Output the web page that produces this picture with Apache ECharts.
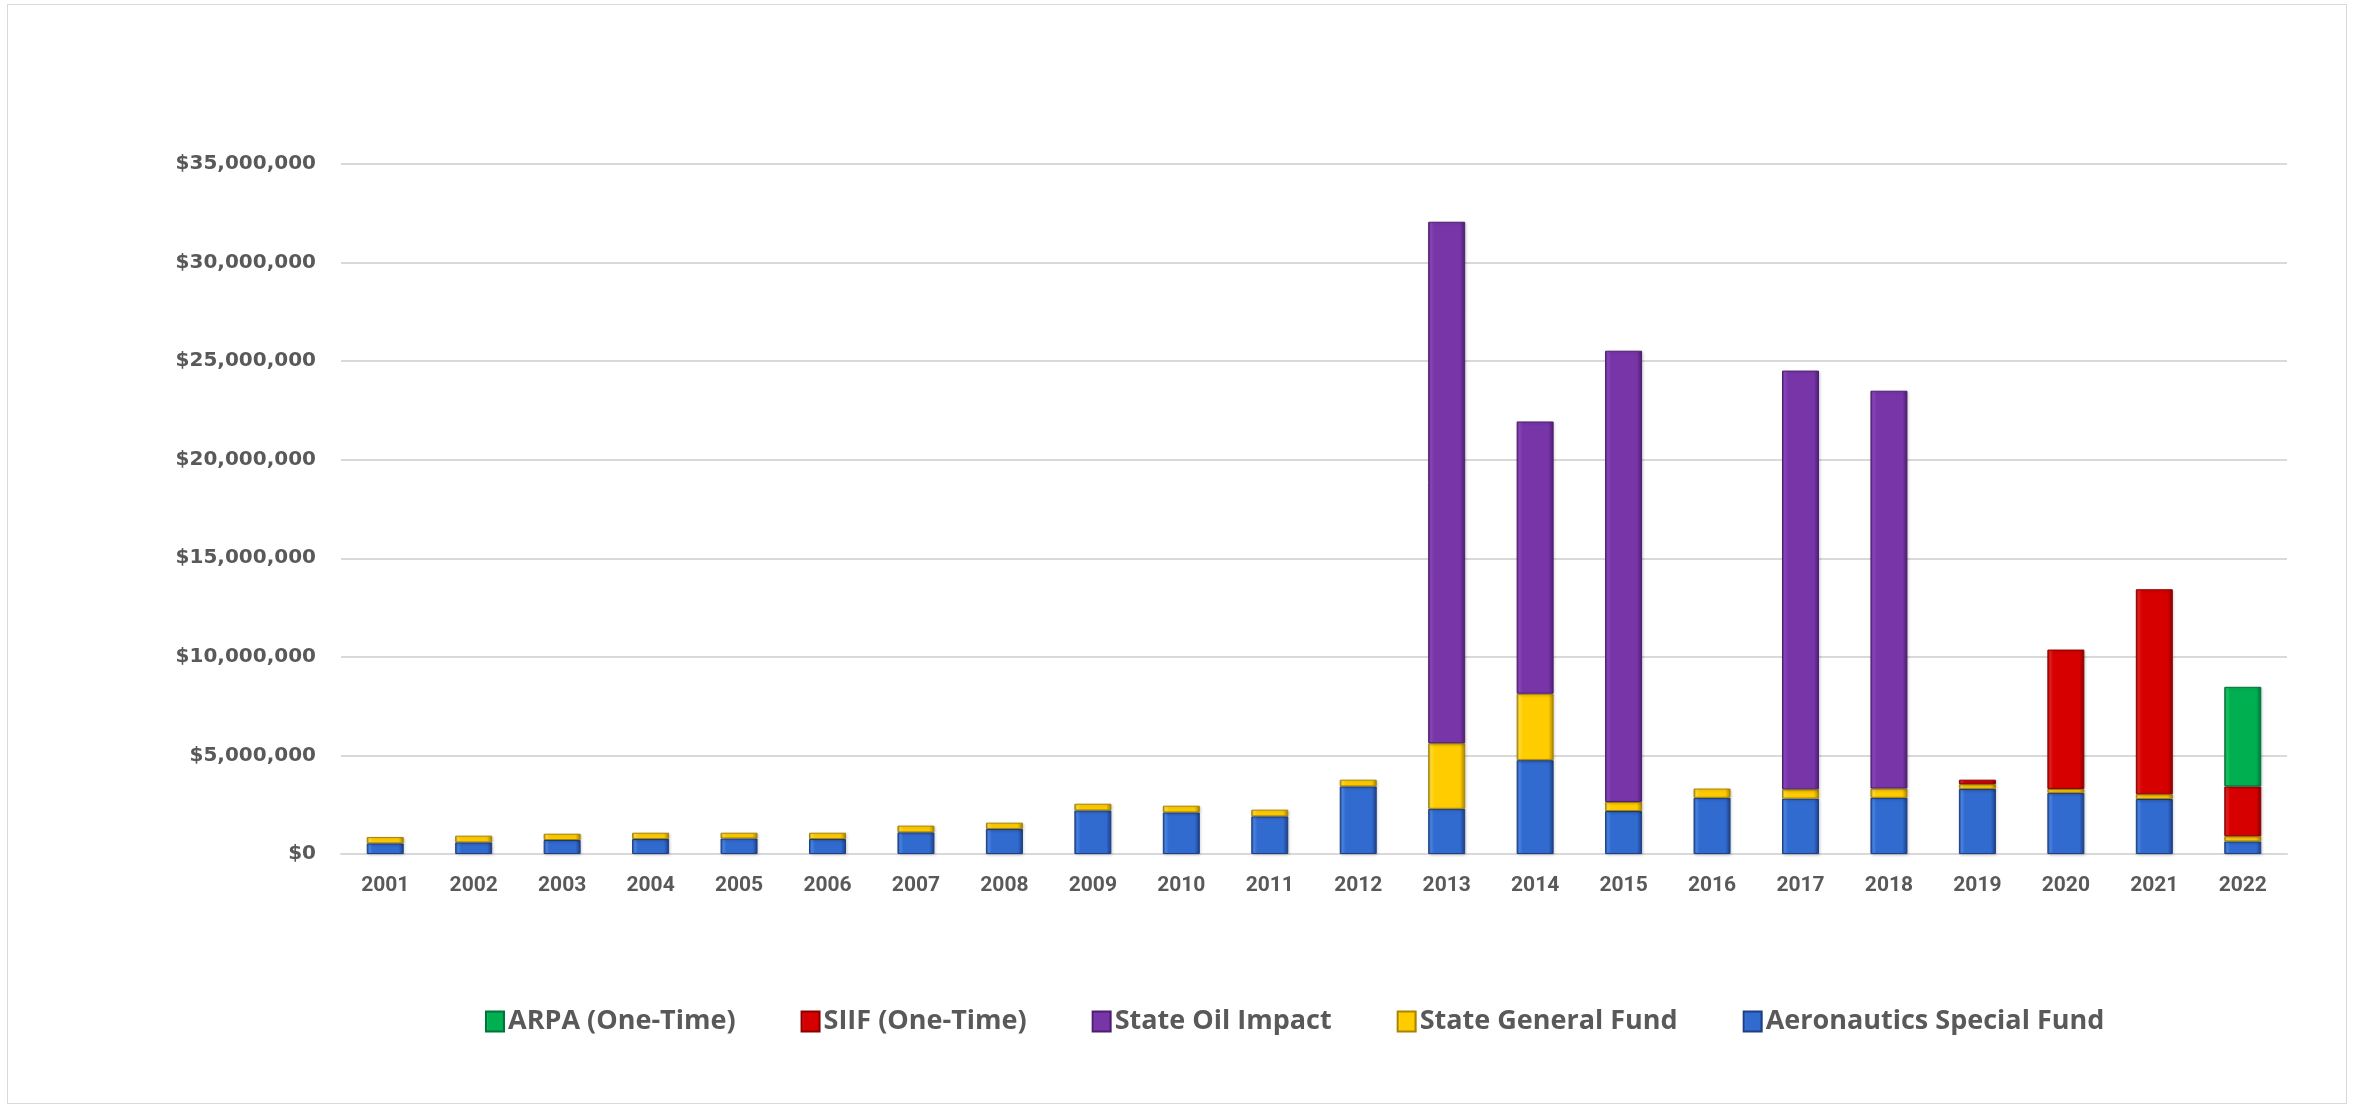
<!DOCTYPE html>
<html>
<head>
<meta charset="utf-8">
<title>Airport Funding by Source, 2001–2022</title>
<script src="https://cdn.jsdelivr.net/npm/echarts@6/dist/echarts.min.js"></script>
<style>
  html, body { margin: 0; padding: 0; background: #fff; }
  #frame { position: absolute; left: 7px; top: 4px; width: 2340px; height: 1100px; border: 1px solid #d9d9d9; box-sizing: border-box; }
  #chart { position: absolute; left: 0; top: 0; width: 2356px; height: 1110px; }
</style>
</head>
<body>
<div id="frame"></div>
<div id="chart"></div>
<script>
// Fiscal years
const years = ['2001','2002','2003','2004','2005','2006','2007','2008','2009','2010','2011',
               '2012','2013','2014','2015','2016','2017','2018','2019','2020','2021','2022'];

// Funding by source, in dollars
const aeronauticsSpecialFund = [540000, 590000, 710000, 760000, 790000, 760000, 1100000, 1270000,
  2210000, 2110000, 1910000, 3430000, 2290000, 4760000, 2180000, 2850000, 2810000, 2850000,
  3300000, 3100000, 2790000, 640000];
const stateGeneralFund = [320000, 340000, 320000, 320000, 290000, 320000, 340000, 320000,
  340000, 340000, 340000, 340000, 3330000, 3370000, 460000, 470000, 470000, 470000,
  240000, 200000, 240000, 260000];
const stateOilImpact = [0, 0, 0, 0, 0, 0, 0, 0, 0, 0, 0, 0,
  26450000, 13810000, 22890000, 0, 21240000, 20180000, 0, 0, 0, 0];
const siifOneTime = [0, 0, 0, 0, 0, 0, 0, 0, 0, 0, 0, 0,
  0, 0, 0, 0, 0, 0, 230000, 7070000, 10400000, 2530000];
const arpaOneTime = [0, 0, 0, 0, 0, 0, 0, 0, 0, 0, 0, 0,
  0, 0, 0, 0, 0, 0, 0, 0, 0, 5050000];

// Value axis ticks
const yMin = 0, yMax = 35000000, yStep = 5000000;

const textColor = '#595959';

// Bevelled bar fill: darker rim on both sides, flat face in the middle
function bevel(edge, face, light) {
  return new echarts.graphic.LinearGradient(0, 0, 1, 0, [
    { offset: 0, color: edge },
    { offset: 0.07, color: light },
    { offset: 0.16, color: face },
    { offset: 0.86, color: face },
    { offset: 1, color: edge }
  ]);
}

const palette = {
  blue:   { face: '#326bd0', edge: '#1d3f84', light: '#4a86e6' },
  yellow: { face: '#ffcc00', edge: '#a98400', light: '#ffe040' },
  purple: { face: '#7835a8', edge: '#4d1f70', light: '#8c48be' },
  red:    { face: '#d60000', edge: '#8a0000', light: '#ec2020' },
  green:  { face: '#00b050', edge: '#00733a', light: '#20c868' }
};

function makeSeries(name, data, key) {
  const p = palette[key];
  return {
    name: name,
    type: 'bar',
    stack: 'total',
    barWidth: 37,
    data: data.map(v => (v === 0 ? null : v)),
    itemStyle: {
      color: bevel(p.edge, p.face, p.light),
      borderColor: p.edge,
      borderWidth: 1,
      shadowColor: 'rgba(0,0,0,0.18)',
      shadowBlur: 3,
      shadowOffsetX: 1,
      shadowOffsetY: 1
    },
    emphasis: { disabled: true }
  };
}

const chart = echarts.init(document.getElementById('chart'), null, { renderer: 'canvas' });

chart.setOption({
  backgroundColor: 'transparent',
  animation: false,
  grid: { left: 341, right: 69, top: 164, bottom: 256, containLabel: false },
  legend: {
    left: 480,
    top: 1003,
    itemWidth: 18,
    itemHeight: 20,
    itemGap: 65,
    icon: 'rect',
    data: ['ARPA (One-Time)', 'SIIF (One-Time)', 'State Oil Impact', 'State General Fund', 'Aeronautics Special Fund'],
    textStyle: { color: textColor, fontSize: 27, fontFamily: 'Open Sans', fontWeight: 'bold', padding: [0, 0, 0, -1] }
  },
  xAxis: {
    type: 'category',
    data: years,
    axisLine: { show: true, lineStyle: { color: '#d9d9d9', width: 2 } },
    axisTick: { show: false },
    axisLabel: { color: textColor, fontSize: 21, fontWeight: 'bold', fontFamily: 'Roboto', margin: 21 }
  },
  yAxis: {
    type: 'value',
    min: yMin,
    max: yMax,
    interval: yStep,
    axisLine: { show: false },
    axisTick: { show: false },
    splitLine: { lineStyle: { color: '#d9d9d9', width: 2 } },
    axisLabel: {
      color: textColor,
      fontSize: 20,
      fontWeight: 'bold',
      fontFamily: 'DejaVu Sans',
      margin: 25,
      formatter: v => '$' + v.toLocaleString('en-US')
    }
  },
  series: [
    makeSeries('Aeronautics Special Fund', aeronauticsSpecialFund, 'blue'),
    makeSeries('State General Fund', stateGeneralFund, 'yellow'),
    makeSeries('State Oil Impact', stateOilImpact, 'purple'),
    makeSeries('SIIF (One-Time)', siifOneTime, 'red'),
    makeSeries('ARPA (One-Time)', arpaOneTime, 'green')
  ]
});
</script>
</body>
</html>
